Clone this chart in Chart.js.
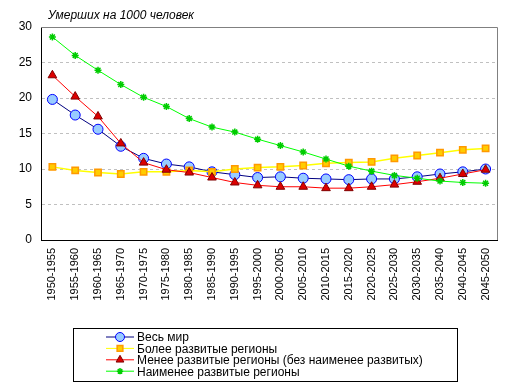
<!DOCTYPE html>
<html>
<head>
<meta charset="utf-8">
<script src="https://cdn.jsdelivr.net/npm/chart.js@4/dist/chart.umd.min.js"></script>
<style>
    html, body { margin: 0; padding: 0; background: #fff; }
    #wrap { width: 513px; height: 392px; }
</style>
</head>
<body>
<div id="wrap"><canvas id="chart" width="513" height="392"></canvas></div>
<script>
// periods on the x axis
const periods = ["1950-1955", "1955-1960", "1960-1965", "1965-1970", "1970-1975",
    "1975-1980", "1980-1985", "1985-1990", "1990-1995", "1995-2000", "2000-2005",
    "2005-2010", "2010-2015", "2015-2020", "2020-2025", "2025-2030", "2030-2035",
    "2035-2040", "2040-2045", "2045-2050"];

// deaths per 1000 people
const worldValues = [19.8, 17.6, 15.6, 13.2, 11.5, 10.7, 10.3, 9.6, 9.2, 8.8,
    8.9, 8.7, 8.6, 8.5, 8.6, 8.6, 8.9, 9.3, 9.6, 10.0];
const moreDevValues = [10.3, 9.8, 9.5, 9.3, 9.6, 9.6, 9.8, 9.6, 10.0, 10.2,
    10.3, 10.5, 10.8, 10.9, 11.0, 11.5, 11.9, 12.3, 12.7, 12.9];
const lessDevValues = [23.2, 20.2, 17.4, 13.6, 10.9, 9.9, 9.5, 8.8, 8.1, 7.7,
    7.5, 7.5, 7.3, 7.3, 7.5, 7.8, 8.2, 8.7, 9.3, 9.9];
const leastDevValues = [28.6, 26.0, 23.9, 21.9, 20.1, 18.8, 17.1, 15.9, 15.2, 14.2,
    13.3, 12.4, 11.4, 10.4, 9.7, 9.1, 8.7, 8.3, 8.1, 8.0];

const seriesNames = ["Весь мир", "Более развитые регионы",
    "Менее развитые регионы (без наименее развитых)", "Наименее развитые регионы"];
const chartTitle = "Умерших на 1000 человек";
const yTicks = { min: 0, max: 30, step: 5 };

const FONT = "'Liberation Sans', Arial, sans-serif";

// title + frame + boxed legend, drawn on the canvas
const decorPlugin = {
    id: 'decor',
    afterDraw(chart) {
        const ctx = chart.ctx;
        const area = chart.chartArea;
        ctx.save();
        // gray top/right frame of the plot area
        ctx.strokeStyle = '#808080';
        ctx.lineWidth = 1;
        ctx.beginPath();
        ctx.moveTo(area.left, area.top + 0.5);
        ctx.lineTo(area.right + 0.5, area.top + 0.5);
        ctx.lineTo(area.right + 0.5, area.bottom);
        ctx.stroke();

        // title
        ctx.fillStyle = '#000';
        ctx.font = 'italic 12px ' + FONT;
        ctx.textBaseline = 'alphabetic';
        ctx.fillText(chartTitle, 48, 19);

        // legend box
        const box = { x: 73.5, y: 328.5, w: 384, h: 53 };
        ctx.strokeStyle = '#000';
        ctx.strokeRect(box.x, box.y, box.w, box.h);
        ctx.font = '12px ' + FONT;
        ctx.textBaseline = 'middle';
        chart.data.datasets.forEach((ds, i) => {
            const y = 337 + i * 11.4;
            ctx.strokeStyle = ds.borderColor;
            ctx.lineWidth = 1;
            ctx.beginPath();
            ctx.moveTo(106, y);
            ctx.lineTo(134, y);
            ctx.stroke();
            ctx.fillStyle = ds.pointBackgroundColor;
            ctx.strokeStyle = ds.pointBorderColor;
            ctx.lineWidth = ds.pointBorderWidth;
            Chart.helpers.drawPoint(ctx, {
                pointStyle: ds.pointStyle,
                radius: ds.pointRadius * 0.9,
                borderWidth: ds.pointBorderWidth
            }, 120, y);
            ctx.fillStyle = '#000';
            ctx.fillText(ds.label, 137, y + 1);
        });
        ctx.restore();
    }
};

new Chart(document.getElementById('chart'), {
    type: 'line',
    data: {
        labels: periods,
        datasets: [
            {
                label: seriesNames[0],
                data: worldValues,
                borderColor: '#000080',
                borderWidth: 1,
                pointStyle: 'circle',
                pointRadius: 5,
                pointBackgroundColor: '#99ccff',
                pointBorderColor: '#0000ff',
                pointBorderWidth: 1,
                order: 3
            },
            {
                label: seriesNames[1],
                data: moreDevValues,
                borderColor: '#ffff00',
                borderWidth: 1.5,
                pointStyle: 'rect',
                pointRadius: 4.5,
                pointBackgroundColor: '#ffcc00',
                pointBorderColor: '#ff9900',
                pointBorderWidth: 1.5,
                order: 2
            },
            {
                label: seriesNames[2],
                data: lessDevValues,
                borderColor: '#ff0000',
                borderWidth: 1,
                pointStyle: 'triangle',
                pointRadius: 5,
                pointBackgroundColor: '#dd0000',
                pointBorderColor: '#800000',
                pointBorderWidth: 1,
                order: 1
            },
            {
                label: seriesNames[3],
                data: leastDevValues,
                borderColor: '#00ff00',
                borderWidth: 1,
                pointStyle: 'star',
                pointRadius: 3.5,
                pointBackgroundColor: '#00cc00',
                pointBorderColor: '#00cc00',
                pointBorderWidth: 1.5,
                order: 0
            }
        ]
    },
    options: {
        responsive: false,
        animation: false,
        layout: { padding: { top: 27, right: 16, left: 0, bottom: 0 } },
        plugins: {
            legend: { display: false },
            title: { display: false },
            tooltip: { enabled: false }
        },
        elements: { line: { tension: 0 } },
        scales: {
            x: {
                offset: true,
                grid: { display: false, drawTicks: false },
                border: { display: true, color: '#000', width: 1 },
                ticks: {
                    color: '#000',
                    font: { family: FONT, size: 11 },
                    minRotation: 90,
                    maxRotation: 90,
                    autoSkip: false,
                    padding: 8
                },
                afterFit(scale) { scale.height = 152; }
            },
            y: {
                min: yTicks.min,
                max: yTicks.max,
                grid: {
                    drawTicks: false,
                    color: (c) => (c.tick.value === yTicks.min || c.tick.value === yTicks.max) ? 'rgba(0,0,0,0)' : '#c0c0c0'
                },
                border: { display: true, color: '#000', width: 1, dash: [3, 3] },
                ticks: {
                    stepSize: yTicks.step,
                    color: '#000',
                    font: { family: FONT, size: 12 },
                    padding: 9
                },
                afterFit(scale) { scale.width = 41; }
            }
        }
    },
    plugins: [decorPlugin]
});
</script>
</body>
</html>
